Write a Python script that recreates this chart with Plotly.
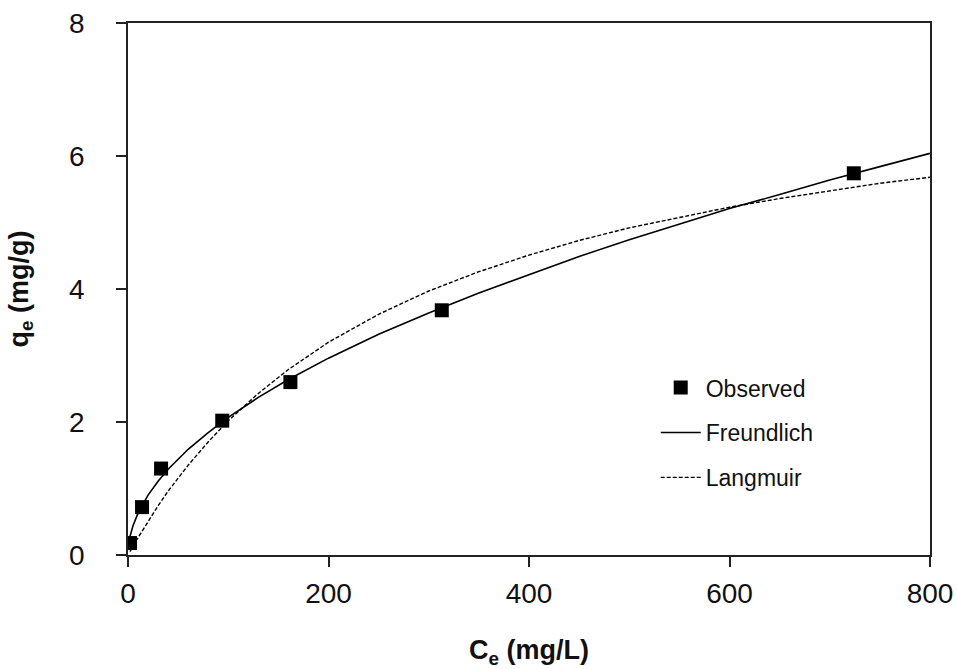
import plotly.graph_objects as go

# Observed data
ce_obs = [2, 14, 33, 94, 162, 313, 724]
qe_obs = [0.18, 0.72, 1.30, 2.02, 2.60, 3.68, 5.74]

# Fitted curves
ce_fit = [2, 5, 10, 20, 30, 40, 60, 80, 100, 130, 160, 200, 250, 300, 350, 400,
          450, 500, 550, 600, 650, 700, 750, 800]
qe_freundlich = [0.28, 0.44, 0.63, 0.90, 1.11, 1.29, 1.59, 1.84, 2.07, 2.37, 2.64,
                 2.96, 3.32, 3.64, 3.94, 4.22, 4.49, 4.74, 4.98, 5.21, 5.42, 5.64,
                 5.84, 6.04]
qe_langmuir = [0.05, 0.14, 0.26, 0.51, 0.74, 0.96, 1.35, 1.70, 2.02, 2.43, 2.79,
               3.20, 3.62, 3.97, 4.26, 4.51, 4.73, 4.92, 5.08, 5.23, 5.36, 5.48,
               5.59, 5.68]

x_ticks = [0, 200, 400, 600, 800]
y_ticks = [0, 2, 4, 6, 8]

FONT = "Liberation Sans, Arial, sans-serif"

fig = go.Figure()
fig.add_trace(go.Scatter(x=ce_obs, y=qe_obs, mode="markers", name="Observed",
                         legendgroup="a",
                         marker=dict(symbol="square", size=14, color="black")))
fig.add_trace(go.Scatter(x=ce_fit, y=qe_freundlich, mode="lines", name="Freundlich",
                         legendgroup="b", line=dict(color="black", width=1.6)))
fig.add_trace(go.Scatter(x=ce_fit, y=qe_langmuir, mode="lines", name="Langmuir",
                         legendgroup="c",
                         line=dict(color="black", width=1.4, dash="4px,2px")))

fig.update_layout(
    width=957, height=669,
    margin=dict(l=128, r=27, t=23, b=114),
    paper_bgcolor="white", plot_bgcolor="white",
    font=dict(family=FONT, color="#111", size=28),
    showlegend=True,
    legend=dict(x=0.658, y=0.355, xanchor="left", yanchor="top",
                bgcolor="rgba(0,0,0,0)", font=dict(size=23),
                tracegroupgap=12, itemwidth=40),
)
fig.update_xaxes(range=[0, 800], tickvals=x_ticks, ticks="outside", ticklen=10,
                 tickwidth=1.5, tickcolor="#222", showline=True, linecolor="#222",
                 linewidth=1.5, mirror=True, showgrid=False, zeroline=False,
                 ticklabelstandoff=3, automargin=False,
                 title=dict(text="<b>C<sub>e</sub> (mg/L)</b>", font=dict(size=27),
                            standoff=33))
fig.update_yaxes(range=[0, 8], tickvals=y_ticks, ticks="outside", ticklen=10,
                 tickwidth=1.5, tickcolor="#222", showline=True, linecolor="#222",
                 linewidth=1.5, mirror=True, showgrid=False, zeroline=False,
                 ticklabelstandoff=26, automargin=False,
                 title=dict(text="<b>q<sub>e</sub> (mg/g)</b>", font=dict(size=27),
                            standoff=33))

fig.write_html("out.html")
